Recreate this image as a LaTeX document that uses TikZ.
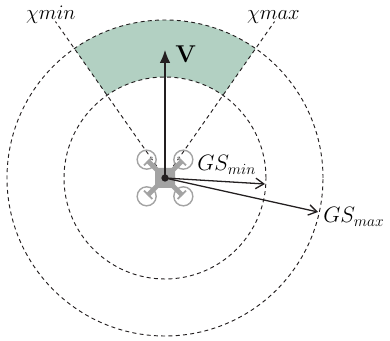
\documentclass[tikz,border=0pt]{standalone}
\usepackage{amsmath,amsfonts,amssymb}
\usepackage{bm}
\usepackage{xcolor}
\usetikzlibrary{arrows.meta,calc,positioning}
\definecolor{sectorgreen}{HTML}{B2D0C2}
\definecolor{dronegray}{HTML}{A3A3A3}
\definecolor{arrowblack}{HTML}{231F20}

\begin{document}
\begin{tikzpicture}[font=\LARGE,line join=round,
    bound/.style={dash pattern=on 3.4pt off 2.8pt,line width=0.8pt,arrowblack},
    vector/.style={arrowblack,line width=1.1pt},
    speedlabel/.style={anchor=base west,inner sep=0pt,scale=1.1},
    course/.style={anchor=base west,inner sep=0pt,scale=1.02}]
  \useasboundingbox (-4.95,-4.89) rectangle (6.75,5.34);
  % ---- geometry ----------------------------------------------------------
  \coordinate (c)  at (0,0);            % drone centre
  \coordinate (V)  at (0,3.84);         % airspeed tip
  \coordinate (Gn) at (3,-0.18);        % GS min tip
  \coordinate (Gx) at (4.59,-1.02);     % GS max tip
  \coordinate (Ln) at (125:5.73);       % chi min ray end
  \coordinate (Lx) at (55:5.73);        % chi max ray end

  % ---- admissible sector -------------------------------------------------
  \fill[sectorgreen] (125:3.03) -- (125:4.74) arc (125:55:4.74)
                     -- (55:3.03) arc (55:125:3.03) -- cycle;

  % ---- speed circles and course rays -------------------------------------
  \draw[bound] (c) circle (3.03);
  \draw[bound] (c) circle (4.74);
  \draw[bound] (c) -- (Ln);
  \draw[bound] (c) -- (Lx);

  % ---- drone -------------------------------------------------------------
  \foreach \sx/\sy in {-1/1,1/1,-1/-1,1/-1}{
    \draw[dronegray,line width=1.2pt] (\sx*0.55,\sy*0.55) circle (0.285);
    \draw[dronegray,line width=4.2pt] (c) -- (\sx*0.52,\sy*0.52);
    \draw[dronegray,line width=1.6pt] (\sx*0.63,\sy*0.38) -- (\sx*0.38,\sy*0.63);
  }
  \fill[dronegray,rounded corners=1pt] (-0.30,-0.30) rectangle (0.30,0.30);

  % ---- vectors -----------------------------------------------------------
  \draw[vector,-{Latex[length=11pt,width=9pt]}] (c) -- (V);
  \draw[vector,-{Straight Barb[length=7pt,width=9pt]}] (c) -- (Gn);
  \draw[vector,-{Straight Barb[length=7pt,width=9pt]}] (c) -- (Gx);
  \fill[arrowblack] (c) circle (0.11);

  % ---- labels ------------------------------------------------------------
  \node[anchor=base west,inner sep=0pt,scale=1.2] (Vlabel) at (0.30,3.46) {$\mathbf{V}$};
  \node[speedlabel] (GSmin) at (0.96,0.22) {$GS_{min}$};
  \node[speedlabel] (GSmax) at (4.74,-1.34) {$GS_{max}$};
  \node[course] (chimin) at (-4.17,4.76) {$\chi min$};
  \node[course] (chimax) at (2.46,4.76) {$\chi max$};
\end{tikzpicture}
\end{document}
